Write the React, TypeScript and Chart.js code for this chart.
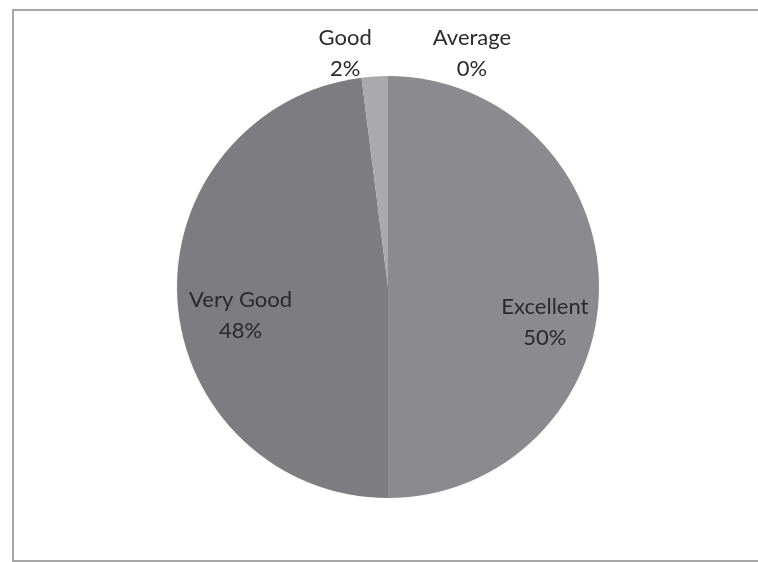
import React, { useEffect, useRef } from "react";
import { Chart, registerables } from "chart.js";

Chart.register(...registerables);

const categories = ["Excellent", "Very Good", "Good", "Average"];
const percentages = [50, 48, 2, 0];
const sliceColors = ["#8b8a8e", "#7d7c80", "#aaa9ad", "#9a999d"];

// label layout: radial factor relative to radius and pixel nudges
const labelLayout = [
  { factor: 0.72, dx: 5, dy: 36 },
  { factor: 0.70, dx: 0, dy: 20 },
  { factor: 1.12, dx: -28, dy: 3 },
  { factor: 1.12, dx: 84, dy: 3 },
];

const labelPlugin = {
  id: "sliceLabels",
  afterDatasetsDraw(chart: any) {
    const ctx = chart.ctx;
    const meta = chart.getDatasetMeta(0);
    ctx.save();
    ctx.font = "22px Lato, 'Open Sans', sans-serif";
    ctx.fillStyle = "#2a2a2a";
    ctx.textAlign = "center";
    ctx.textBaseline = "middle";
    meta.data.forEach((arc: any, i: number) => {
      const p = arc.getProps(["x", "y", "startAngle", "endAngle", "outerRadius"], true);
      const mid = (p.startAngle + p.endAngle) / 2;
      const lay = labelLayout[i];
      const d = p.outerRadius * lay.factor;
      const x = p.x + Math.cos(mid) * d + lay.dx;
      const y = p.y + Math.sin(mid) * d + lay.dy;
      ctx.fillText(categories[i], x, y - 16);
      ctx.fillText(percentages[i] + "%", x, y + 15);
    });
    ctx.restore();
  },
};

export default function App() {
  const ref = useRef<HTMLCanvasElement>(null);
  useEffect(() => {
    document.body.style.margin = "0";
    const chart = new Chart(ref.current!, {
      type: "pie",
      data: {
        labels: categories,
        datasets: [
          {
            data: percentages,
            backgroundColor: sliceColors,
            borderWidth: 0,
          },
        ],
      },
      options: {
        animation: false,
        responsive: false,
        maintainAspectRatio: false,
        layout: { padding: { left: 177, right: 159, top: 76, bottom: 64 } },
        plugins: { legend: { display: false }, tooltip: { enabled: false } },
      },
      plugins: [labelPlugin],
    });
    return () => chart.destroy();
  }, []);
  return (
    <div style={{ position: "fixed", left: 0, top: 0, width: 758, height: 562, background: "#fff", overflow: "hidden" }}>
      <div
        style={{
          position: "absolute",
          left: 12,
          top: 9,
          width: 780,
          height: 553,
          border: "2px solid #a6a6a6",
          boxSizing: "border-box",
        }}
      />
      <canvas ref={ref} width={758} height={562} style={{ position: "absolute", left: 0, top: 0 }} />
    </div>
  );
}
